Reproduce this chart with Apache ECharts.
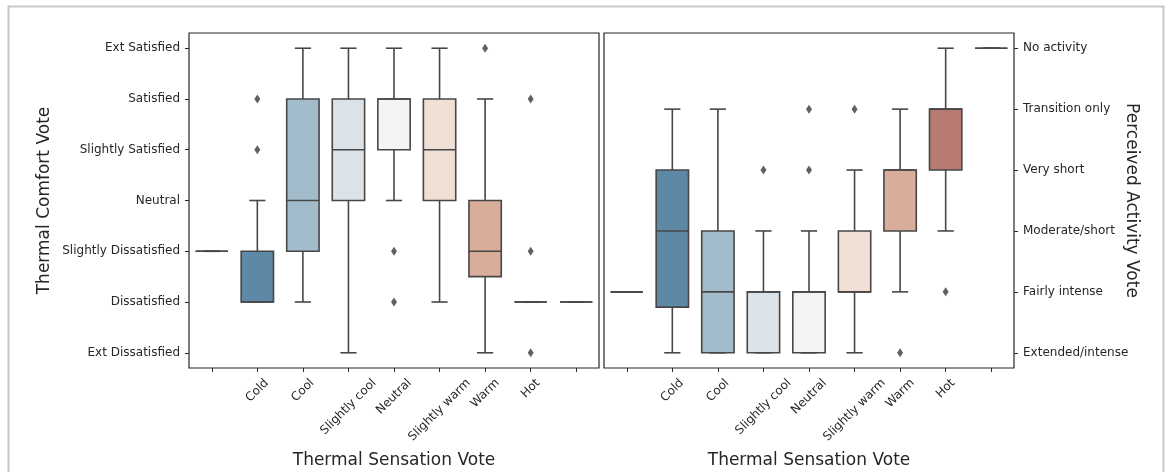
<!DOCTYPE html>
<html><head><meta charset="utf-8">
<script src="https://cdn.jsdelivr.net/npm/echarts@6/dist/echarts.min.js"></script>
<style>html,body{margin:0;padding:0;background:#fff}#c{width:1168px;height:472px}</style>
</head><body><div id="c"></div>
<script>
// ---- data ----
const sensationCategories = ['', 'Cold', 'Cool', 'Slightly cool', 'Neutral', 'Slightly warm', 'Warm', 'Hot', ''];
const comfortValues = [-3, -2, -1, 0, 1, 2, 3];
const comfortLabels = ['Ext Dissatisfied', 'Dissatisfied', 'Slightly Dissatisfied', 'Neutral', 'Slightly Satisfied', 'Satisfied', 'Ext Satisfied'];
const activityValues = [0, 1, 2, 3, 4, 5];
const activityLabels = ['Extended/intense', 'Fairly intense', 'Moderate/short', 'Very short', 'Transition only', 'No activity'];
const boxColors = ['#7f7f7f', '#5d88a6', '#a3bccb', '#dbe3e8', '#f4f4f2', '#efdfd5', '#d8ad99', '#b87b72', '#7f7f7f'];
// [min, Q1, median, Q3, max] per sensation category
const comfortBoxes = [
  [-1, -1, -1, -1, -1],
  [-2, -2, -2, -1, 0],
  [-2, -1, 0, 2, 3],
  [-3, 0, 1, 2, 3],
  [0, 1, 2, 2, 3],
  [-2, 0, 1, 2, 3],
  [-3, -1.5, -1, 0, 2],
  [-2, -2, -2, -2, -2],
  [-2, -2, -2, -2, -2]
];
const comfortOutliers = [[1, 1], [1, 2], [4, -1], [4, -2], [6, 3], [7, 2], [7, -1], [7, -3]];
const activityBoxes = [
  [1, 1, 1, 1, 1],
  [0, 0.75, 2, 3, 4],
  [0, 0, 1, 2, 4],
  [0, 0, 1, 1, 2],
  [0, 0, 1, 1, 2],
  [0, 1, 1, 2, 3],
  [1, 2, 3, 3, 4],
  [2, 3, 4, 4, 5],
  [5, 5, 5, 5, 5]
];
const activityOutliers = [[3, 3], [4, 3], [4, 4], [5, 4], [6, 0], [7, 1]];

// ---- styling helpers ----
const FONT = 'DejaVu Sans';
const TICK_FS = 12;
const TITLE_FS = 17;
const INK = '#262626';
const LINE = '#474747';

// emulate centred rotated tick labels (matplotlib style)
const ctx = document.createElement('canvas').getContext('2d');
ctx.font = TICK_FS + 'px "' + FONT + '"';
const xRich = {};
sensationCategories.forEach((c, i) => {
  const L = ctx.measureText(c).width;
  const h = (L + TICK_FS * 1.2) * Math.SQRT1_2;
  const s = 8 + h / 2;
  const p = s * Math.SQRT2;
  xRich['r' + i] = { padding: [p, p, 0, 0], fontSize: TICK_FS, fontFamily: FONT, color: INK };
});

function renderBox(params, api) {
  const i = api.value(0);
  const v = [1, 2, 3, 4, 5].map(k => api.value(k));
  const bw = api.size([1, 0])[0] * 0.71;
  const cw = bw * 0.5;
  const px = api.coord([i, v[0]])[0];
  const y = v.map(val => api.coord([i, val])[1]);
  const ls = { stroke: LINE, lineWidth: 1.6 };
  return {
    type: 'group',
    children: [
      { type: 'line', shape: { x1: px, y1: y[3], x2: px, y2: y[4] }, style: ls },
      { type: 'line', shape: { x1: px, y1: y[1], x2: px, y2: y[0] }, style: ls },
      { type: 'line', shape: { x1: px - cw / 2, y1: y[4], x2: px + cw / 2, y2: y[4] }, style: ls },
      { type: 'line', shape: { x1: px - cw / 2, y1: y[0], x2: px + cw / 2, y2: y[0] }, style: ls },
      { type: 'rect', shape: { x: px - bw / 2, y: y[3], width: bw, height: y[1] - y[3] },
        style: { fill: boxColors[i], stroke: LINE, lineWidth: 1.6 } },
      { type: 'line', shape: { x1: px - bw / 2, y1: y[2], x2: px + bw / 2, y2: y[2] }, style: ls }
    ]
  };
}

function xAxisCfg(gridIndex) {
  return {
    type: 'category', gridIndex, data: sensationCategories, boundaryGap: true, position: 'bottom',
    name: 'Thermal Sensation Vote', nameLocation: 'middle', nameGap: 84, nameMoveOverlap: false,
    nameTextStyle: { fontFamily: FONT, fontSize: TITLE_FS, color: INK },
    axisLine: { show: false, onZero: false },
    axisTick: { show: true, alignWithLabel: true, length: 4, lineStyle: { color: INK, width: 1 } },
    axisLabel: {
      interval: 0, rotate: 45, align: 'center', verticalAlign: 'middle', margin: 0,
      formatter: (val, idx) => val ? '{r' + idx + '|' + val + '}' : '',
      rich: xRich, fontFamily: FONT, fontSize: TICK_FS, color: INK
    },
    splitLine: { show: false }
  };
}

const gridBase = { top: 33, bottom: 104, show: true, borderColor: INK, borderWidth: 1.2,
  backgroundColor: 'transparent', containLabel: false, outerBoundsMode: 'none' };

const option = {
  animation: false,
  backgroundColor: '#fff',
  graphic: [{
    type: 'rect', silent: true,
    shape: { x: 8.5, y: 6.5, width: 1155, height: 520 },
    style: { fill: 'none', stroke: '#c8c8c8', lineWidth: 2 }
  }],
  grid: [
    Object.assign({ left: 189, right: 569 }, gridBase),
    Object.assign({ left: 604, right: 154 }, gridBase)
  ],
  xAxis: [xAxisCfg(0), xAxisCfg(1)],
  yAxis: [
    {
      type: 'value', gridIndex: 0, min: -3.3, max: 3.3,
      name: 'Thermal Comfort Vote', nameLocation: 'middle', nameGap: 136, nameMoveOverlap: false,
      nameTextStyle: { fontFamily: FONT, fontSize: TITLE_FS, color: INK },
      axisLine: { show: false, onZero: false },
      axisTick: { show: true, length: 4, customValues: comfortValues, lineStyle: { color: INK, width: 1 } },
      axisLabel: {
        customValues: comfortValues, margin: 9, fontFamily: FONT, fontSize: TICK_FS, color: INK,
        formatter: v => comfortLabels[comfortValues.indexOf(Math.round(v))]
      },
      splitLine: { show: false }
    },
    {
      type: 'value', gridIndex: 1, position: 'right', min: -0.25, max: 5.25,
      name: 'Perceived Activity Vote', nameLocation: 'middle', nameGap: 109, nameRotate: -90, nameMoveOverlap: false,
      nameTextStyle: { fontFamily: FONT, fontSize: TITLE_FS, color: INK },
      axisLine: { show: false, onZero: false },
      axisTick: { show: true, length: 4, customValues: activityValues, lineStyle: { color: INK, width: 1 } },
      axisLabel: {
        customValues: activityValues, margin: 9, fontFamily: FONT, fontSize: TICK_FS, color: INK,
        formatter: v => activityLabels[activityValues.indexOf(Math.round(v))]
      },
      splitLine: { show: false }
    }
  ],
  series: [
    {
      type: 'custom', xAxisIndex: 0, yAxisIndex: 0, renderItem: renderBox,
      encode: { x: 0, y: [1, 2, 3, 4, 5] },
      data: comfortBoxes.map((b, i) => [i].concat(b)), z: 2
    },
    {
      type: 'scatter', xAxisIndex: 0, yAxisIndex: 0, symbol: 'diamond', symbolSize: [6, 9],
      itemStyle: { color: '#3a3a3a' }, data: comfortOutliers, z: 3
    },
    {
      type: 'custom', xAxisIndex: 1, yAxisIndex: 1, renderItem: renderBox,
      encode: { x: 0, y: [1, 2, 3, 4, 5] },
      data: activityBoxes.map((b, i) => [i].concat(b)), z: 2
    },
    {
      type: 'scatter', xAxisIndex: 1, yAxisIndex: 1, symbol: 'diamond', symbolSize: [6, 9],
      itemStyle: { color: '#3a3a3a' }, data: activityOutliers, z: 3
    }
  ]
};
const chart = echarts.init(document.getElementById('c'), null, { renderer: 'canvas' });
chart.setOption(option);
</script></body></html>
